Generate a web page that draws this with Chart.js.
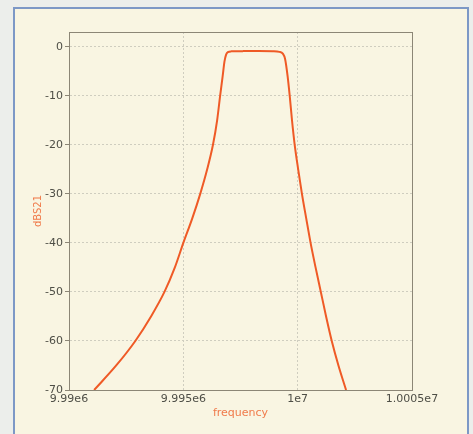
<!DOCTYPE html>
<html>
<head>
<meta charset="utf-8">
<script src="https://cdn.jsdelivr.net/npm/chart.js@4.4.0/dist/chart.umd.min.js"></script>
<style>
  body { margin: 0; background: #eceeeb; }
  #frame {
    position: absolute; left: 13px; top: 7px; width: 452px; height: 450px;
    border: 2px solid #7d98c6; background: #f9f5e2;
  }
  #wrap { position: absolute; left: 0; top: 0; width: 473px; height: 434px; }
</style>
</head>
<body>
<div id="frame"></div>
<div id="wrap"><canvas id="myChart" width="473" height="434"></canvas></div>
<script>
// frequency (Hz) and dBS21
let freq = [
  9991100, 9992065, 9992900, 9993587, 9994174, 9994630, 9995000, 9995391,
  9995739, 9996043, 9996296, 9996478, 9996609, 9996720, 9996800, 9996870,
  9996950, 9997100, 9997600, 9998300, 9998900, 9999200, 9999350, 9999450,
  9999560, 9999652, 9999752, 9999870, 10000022, 10000187, 10000374, 10000565,
  10000783, 10001013, 10001243, 10001491, 10001783, 10002117
];
let dbs21 = [
  -70, -65, -60, -55, -50, -45, -40, -35,
  -30, -25, -20, -15, -10, -6, -3, -1.6,
  -1.1, -0.95, -0.9, -0.88, -0.92, -1.05, -1.4, -2.5,
  -6, -10, -15, -20, -25, -30, -35, -40,
  -45, -50, -55, -60, -65, -70
];
let xTicks = [9990000, 9995000, 10000000, 10005000];
let xTickLabels = ["9.99e6", "9.995e6", "1e7", "1.0005e7"];
let yTicks = [-70, -60, -50, -40, -30, -20, -10, 0];

let points = freq.map((f, i) => ({ x: f, y: dbs21[i] }));

// box round the plot area (top and right sides too)
const frameBox = {
  id: "frameBox",
  afterDraw(chart) {
    const a = chart.chartArea;
    const ctx = chart.ctx;
    ctx.save();
    ctx.strokeStyle = "#8c8676";
    ctx.lineWidth = 1;
    ctx.strokeRect(a.left + 0.5, a.top + 0.5, a.right - a.left, a.bottom - a.top);
    ctx.restore();
  }
};

const ctx = document.getElementById("myChart").getContext("2d");
let chart = new Chart(ctx, {
  type: "scatter",
  data: {
    datasets: [{
      data: points,
      showLine: true,
      borderColor: "#ef5a26",
      borderWidth: 2,
      pointRadius: 0,
      cubicInterpolationMode: "monotone"
    }]
  },
  options: {
    responsive: false,
    animation: false,
    layout: { padding: { left: 0, right: 61, top: 32, bottom: 0 } },
    plugins: { legend: { display: false }, tooltip: { enabled: false } },
    scales: {
      x: {
        type: "linear",
        min: 9990000,
        max: 10005000,
        afterFit: (s) => { s.height = 44; },
        afterBuildTicks: (s) => { s.ticks = xTicks.map(v => ({ value: v })); },
        ticks: {
          padding: 3,
          color: "#4e4e46",
          font: { family: "DejaVu Sans", size: 11 },
          maxRotation: 0,
          callback: (v) => xTickLabels[xTicks.indexOf(v)]
        },
        grid: { color: "#cfcdbf", drawTicks: false },
        border: { color: "#8c8676", dash: [2, 2] },
        title: {
          display: true,
          text: "frequency",
          color: "#f07a4a",
          font: { family: "DejaVu Sans", size: 11 },
          padding: { top: 14, bottom: 14 }
        }
      },
      y: {
        min: -70,
        max: 3,
        afterFit: (s) => { s.width = 69; },
        afterBuildTicks: (s) => { s.ticks = yTicks.map(v => ({ value: v })); },
        ticks: {
          padding: 2,
          color: "#4e4e46",
          font: { family: "DejaVu Sans", size: 11 }
        },
        grid: { color: "#cfcdbf", tickLength: 4, tickColor: "#8c8676" },
        border: { color: "#8c8676", dash: [2, 2] },
        title: {
          display: true,
          text: "dBS21",
          color: "#f07a4a",
          font: { family: "DejaVu Sans", size: 10 },
          padding: { top: 32, bottom: 32 }
        }
      }
    }
  },
  plugins: [frameBox]
});
</script>
</body>
</html>
